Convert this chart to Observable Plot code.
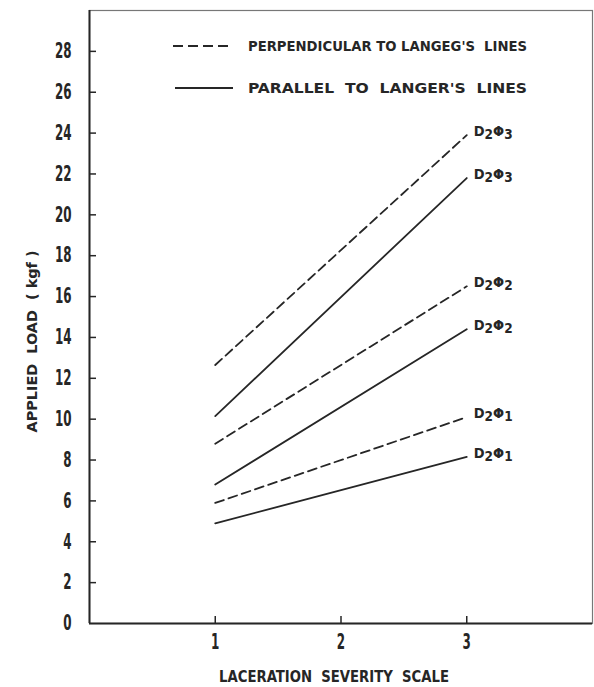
<!DOCTYPE html>
<html>
<head>
<meta charset="utf-8">
<script src="https://cdn.jsdelivr.net/npm/d3@7"></script>
<script src="https://cdn.jsdelivr.net/npm/@observablehq/plot@0.6"></script>
<style>
  html, body { margin: 0; padding: 0; background: #fff; }
  #wrap { position: relative; width: 594px; height: 687px; overflow: hidden; }
  #legend { position: absolute; left: 0; top: 0; }
</style>
</head>
<body>
<div id="wrap"></div>
<script>
// ---- data ----
const severity = [1, 3];
const curves = ["D2Φ3", "D2Φ2", "D2Φ1"];
const perpendicular = [[12.65, 23.9], [8.8, 16.5], [5.9, 10.1]];
const parallel = [[10.15, 21.8], [6.8, 14.4], [4.9, 8.15]];
const yTicks = [0, 2, 4, 6, 8, 10, 12, 14, 16, 18, 20, 22, 24, 26, 28];
const xTicks = [1, 2, 3];
const legendLabels = ["PERPENDICULAR TO LANGEG'S  LINES", "PARALLEL  TO  LANGER'S  LINES"];
const xTitle = "LACERATION  SEVERITY  SCALE";
const yTitle = "APPLIED  LOAD  ( kgf )";

const rows = [];
curves.forEach((c, i) => {
  severity.forEach((s, j) => {
    rows.push({series: "perp-" + c, type: "perp", curve: c, x: s, y: perpendicular[i][j]});
    rows.push({series: "par-" + c, type: "par", curve: c, x: s, y: parallel[i][j]});
  });
});
const perpRows = rows.filter(d => d.type === "perp");
const parRows = rows.filter(d => d.type === "par");
const endRows = rows.filter(d => d.x === severity[severity.length - 1]);

const W = 594, H = 687;
const mL = 89, mR = 2, mT = 10, mB = 64;
const frameW = W - mL - mR, frameH = H - mT - mB;
const ink = "#262626";
const font = '"DejaVu Sans Condensed", "Liberation Sans Narrow", "DejaVu Sans", sans-serif';

const chart = Plot.plot({
  width: W, height: H,
  marginLeft: mL, marginRight: mR, marginTop: mT, marginBottom: mB,
  style: {fontFamily: font, fontWeight: "bold", color: ink, background: "#fff"},
  x: {domain: [0, 4]},
  y: {domain: [0, 30]},
  marks: [
    Plot.frame({stroke: "#777", strokeWidth: 1.2}),
    Plot.ruleX([0], {stroke: ink, strokeWidth: 2}),
    Plot.ruleY([0], {stroke: ink, strokeWidth: 2}),
    // inward ticks
    Plot.tickY(yTicks.filter(d => d > 0), {y: d => d, stroke: ink, strokeWidth: 1.5, insetRight: frameW - 7}),
    Plot.tickX(xTicks, {x: d => d, stroke: ink, strokeWidth: 1.5, insetTop: frameH - 7}),
    Plot.axisY({ticks: yTicks, tickSize: 0, tickPadding: 18, fontSize: 21, label: null, tickFormat: d => String(d)}),
    Plot.axisX({ticks: xTicks, tickSize: 0, tickPadding: 11, fontSize: 21, label: null, tickFormat: d => String(d)}),
    Plot.line(perpRows, {x: "x", y: "y", z: "series", stroke: ink, strokeWidth: 1.8, strokeDasharray: "9,5"}),
    Plot.line(parRows, {x: "x", y: "y", z: "series", stroke: ink, strokeWidth: 1.8}),
    Plot.text(endRows, {x: "x", y: "y", text: "curve", textAnchor: "start", dx: 7, dy: -4, fontSize: 14.5, fill: ink}),
    Plot.text([yTitle], {frameAnchor: "left", textAnchor: "middle", lineAnchor: "middle", rotate: -90, dx: -57, dy: 24.5, fontSize: 13.5, fill: ink}),
    Plot.text([xTitle], {frameAnchor: "bottom", textAnchor: "middle", lineAnchor: "middle", dx: -7, dy: 54, fontSize: 15, fill: ink})
  ]
});

const svg = d3.select(chart);
const tickSet = new Set([...yTicks, ...xTicks].map(String));
svg.selectAll("text").each(function() {
  const t = d3.select(this);
  const s = t.text();
  if (tickSet.has(s)) {
    t.attr("textLength", 8.3 * s.length).attr("lengthAdjust", "spacingAndGlyphs");
  } else if (s === yTitle) {
    t.attr("textLength", 182).attr("lengthAdjust", "spacingAndGlyphs").style("white-space", "pre");
  } else if (s === xTitle) {
    t.attr("textLength", 230).attr("lengthAdjust", "spacingAndGlyphs").style("white-space", "pre");
  } else if (curves.includes(s)) {
    t.text(null);
    t.append("tspan").text(s[0]);
    t.append("tspan").attr("dy", "3.5").attr("font-size", "13.5").text(s[1]);
    t.append("tspan").attr("dy", "-3.5").text(s[2]);
    t.append("tspan").attr("dy", "3.5").attr("font-size", "13.5").text(s[3]);
  }
});

const wrap = document.getElementById("wrap");
wrap.appendChild(chart);

// legend overlay (inside the plot frame)
const leg = d3.create("svg").attr("id", "legend").attr("width", W).attr("height", 110)
  .style("font-family", font).style("font-weight", "bold");
const legendRows = [
  {label: legendLabels[0], dashed: true, x1: 173, x2: 232, y: 46},
  {label: legendLabels[1], dashed: false, x1: 175, x2: 233, y: 88}
];
legendRows.forEach(r => {
  leg.append("line").attr("x1", r.x1).attr("x2", r.x2).attr("y1", r.y).attr("y2", r.y)
    .attr("stroke", ink).attr("stroke-width", 1.8)
    .attr("stroke-dasharray", r.dashed ? "10,5" : null);
  leg.append("text").attr("x", 248).attr("y", r.y + 5).attr("fill", ink)
    .attr("font-size", 14).style("white-space", "pre")
    .attr("textLength", 279).attr("lengthAdjust", "spacingAndGlyphs")
    .text(r.label);
});
wrap.appendChild(leg.node());
</script>
</body>
</html>
